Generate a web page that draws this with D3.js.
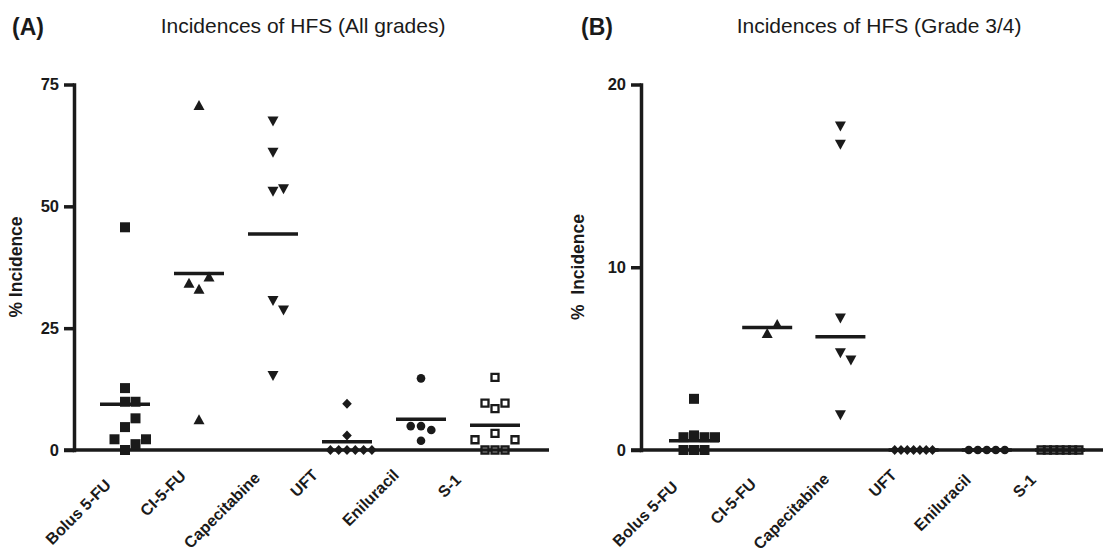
<!DOCTYPE html>
<html>
<head>
<meta charset="utf-8">
<script src="https://cdn.jsdelivr.net/npm/d3@7"></script>
<style>
  body { margin: 0; background: #fff; }
  text { font-family: "Liberation Sans", Arial, sans-serif; fill: #1a1a1a; }
</style>
</head>
<body>
<script>
// categories shared by both panels
var categories = ['Bolus 5-FU', 'CI-5-FU', 'Capecitabine', 'UFT', 'Eniluracil', 'S-1'];
var symbols = ['square', 'triangle', 'triangleDown', 'diamond', 'circle', 'openSquare'];

// (A) all grades, % incidence per study
var allBolus = [45.7, 12.7, 0, 1.2, 2.2, 2.2, 4.7, 9.9, 9.9, 6.5];
var allCI = [70.8, 6.3, 33.1, 35.6, 34.3];
var allCape = [67.4, 61.0, 53.0, 53.5, 30.6, 28.6, 15.2];
var allUFT = [9.5, 3.0, 0, 0, 0, 0, 0, 0];
var allEnil = [14.7, 1.9, 4.9, 4.1, 4.9];
var allS1 = [14.9, 0, 0, 0, 3.4, 2.1, 2.1, 8.5, 9.6, 9.6];
var allLine = [9.4, 36.2, 44.3, 1.7, 6.3, 5.1];
var ticksA = [0, 25, 50, 75];

// (B) grade 3/4
var g34Bolus = [2.8, 0.8, 0.7, 0.7, 0.7, 0, 0, 0];
var g34CI = [6.4, 6.9];
var g34Cape = [17.7, 16.7, 7.2, 5.3, 4.9, 1.9];
var g34UFT = [0, 0, 0, 0, 0, 0, 0];
var g34Enil = [0, 0, 0, 0, 0];
var g34S1 = [0, 0, 0, 0, 0, 0, 0];
var g34Line = [0.5, 6.7, 6.2, 0, 0, 0];
var ticksB = [0, 10, 20];

var width = 1103, height = 555;
var ink = '#1a1a1a';

var svg = d3.select('body').append('svg')
    .attr('width', width)
    .attr('height', height);

var panels = [
  { tag: '(A)', tagX: 12, title: 'Incidences of HFS (All grades)', titleX: 160.7,
    left: 74, right: 549, xr: [125, 495], ticks: ticksA,
    series: [allBolus, allCI, allCape, allUFT, allEnil, allS1], line: allLine,
    ytitle: '% Incidence', ytitleX: 21.5,
    step: [10.5, 10, 10.5, 8.3, 10.3, 10],
    labDx: [-13, -12, -12, -28, -21, -33], labY: [486, 477, 479, 476, 476, 481] },
  { tag: '(B)', tagX: 581, title: 'Incidences of HFS (Grade 3/4)', titleX: 736.7,
    left: 641, right: 1103, xr: [694, 1060], ticks: ticksB,
    series: [g34Bolus, g34CI, g34Cape, g34UFT, g34Enil, g34S1], line: g34Line,
    ytitle: '%  Incidence', ytitleX: 584,
    step: [10.5, 10, 10.5, 6.3, 9, 6.3],
    labDx: [-15, -10, -10, -16, -15, -23], labY: [488, 485, 480, 476, 481, 481] }
];

// 散点横向错开，避免重叠
function swarm(vals, y, step, tol) {
  var placed = [];
  return vals.map(function(v) {
    var py = y(v), off = 0;
    for (var k = 0; k < 40; k++) {
      off = (k == 0) ? 0 : (k % 2 ? 1 : -1) * Math.ceil(k / 2) * step;
      var hit = placed.some(function(p) {
        return Math.abs(p.dx - off) < step - 0.01 && Math.abs(p.y - py) < tol;
      });
      if (!hit) break;
    }
    var p = { v: v, y: py, dx: off };
    placed.push(p);
    return p;
  });
}

function symbolPath(kind) {
  if (kind == 'square') return 'M-5,-5H5V5H-5Z';
  if (kind == 'openSquare') return 'M-3.5,-3.5H3.5V3.5H-3.5Z';
  if (kind == 'triangle') return 'M0,-5L5.5,5L-5.5,5Z';
  if (kind == 'triangleDown') return 'M-5.5,-5L5.5,-5L0,5Z';
  if (kind == 'diamond') return 'M0,-5L4.8,0L0,5L-4.8,0Z';
  return d3.arc()({ innerRadius: 0, outerRadius: 4.3, startAngle: 0, endAngle: 2 * Math.PI });
}

panels.forEach(function(p) {
  var g = svg.append('g');
  var y = d3.scaleLinear()
      .domain([0, d3.max(p.ticks)])
      .range([450, 84.5]);
  var x = d3.scalePoint()
      .domain(categories)
      .range(p.xr);

  // titles
  g.append('text')
    .attr('x', p.tagX).attr('y', 35)
    .attr('font-size', 23).attr('font-weight', 'bold')
    .text(p.tag);
  g.append('text')
    .attr('x', p.titleX).attr('y', 33.3)
    .attr('font-size', 21)
    .text(p.title);

  // y axis
  var yAxis = g.append('g')
      .attr('transform', 'translate(' + p.left + ',0)')
      .call(d3.axisLeft(y).tickValues(p.ticks).tickSize(10).tickSizeOuter(0).tickPadding(5));
  yAxis.select('.domain')
    .attr('stroke', ink).attr('stroke-width', 3.5).attr('stroke-linecap', 'square');
  yAxis.selectAll('.tick line')
    .attr('stroke', ink).attr('stroke-width', 3.5);
  yAxis.selectAll('.tick text')
    .attr('fill', ink)
    .attr('font-family', '"Liberation Sans", Arial, sans-serif')
    .attr('font-size', 16.5).attr('font-weight', 'bold');

  // baseline
  g.append('line')
    .attr('x1', p.left - 10).attr('x2', p.right)
    .attr('y1', y(0)).attr('y2', y(0))
    .attr('stroke', ink).attr('stroke-width', 3.5);

  g.append('text')
    .attr('transform', 'translate(' + p.ytitleX + ',267) rotate(-90)')
    .attr('text-anchor', 'middle')
    .attr('font-size', 17.5).attr('font-weight', 'bold')
    .style('white-space', 'pre')
    .text(p.ytitle);

  // category labels
  g.selectAll('.cat')
    .data(categories)
    .enter().append('text')
      .attr('class', 'cat')
      .attr('transform', function(d, i) {
        return 'translate(' + (x(d) + p.labDx[i]) + ',' + p.labY[i] + ') rotate(-45)';
      })
      .attr('text-anchor', 'end')
      .attr('font-size', 16).attr('font-weight', 'bold')
      .text(function(d) { return d; });

  // points
  p.series.forEach(function(vals, i) {
    var pts = swarm(vals, y, p.step[i], 12.5);
    var open = symbols[i] == 'openSquare';
    g.append('g').selectAll('path')
      .data(pts)
      .enter().append('path')
        .attr('transform', function(d) { return 'translate(' + (x(categories[i]) + d.dx) + ',' + d.y + ')'; })
        .attr('d', symbolPath(symbols[i]))
        .attr('fill', open ? 'none' : ink)
        .attr('stroke', open ? ink : 'none')
        .attr('stroke-width', open ? 2.3 : 0);
  });

  // centre lines
  g.selectAll('.mid')
    .data(p.line)
    .enter().append('line')
      .attr('class', 'mid')
      .attr('x1', function(d, i) { return x(categories[i]) - 25; })
      .attr('x2', function(d, i) { return x(categories[i]) + 25; })
      .attr('y1', function(d) { return y(d); })
      .attr('y2', function(d) { return y(d); })
      .attr('stroke', ink).attr('stroke-width', 3.5);
});
</script>
</body>
</html>
